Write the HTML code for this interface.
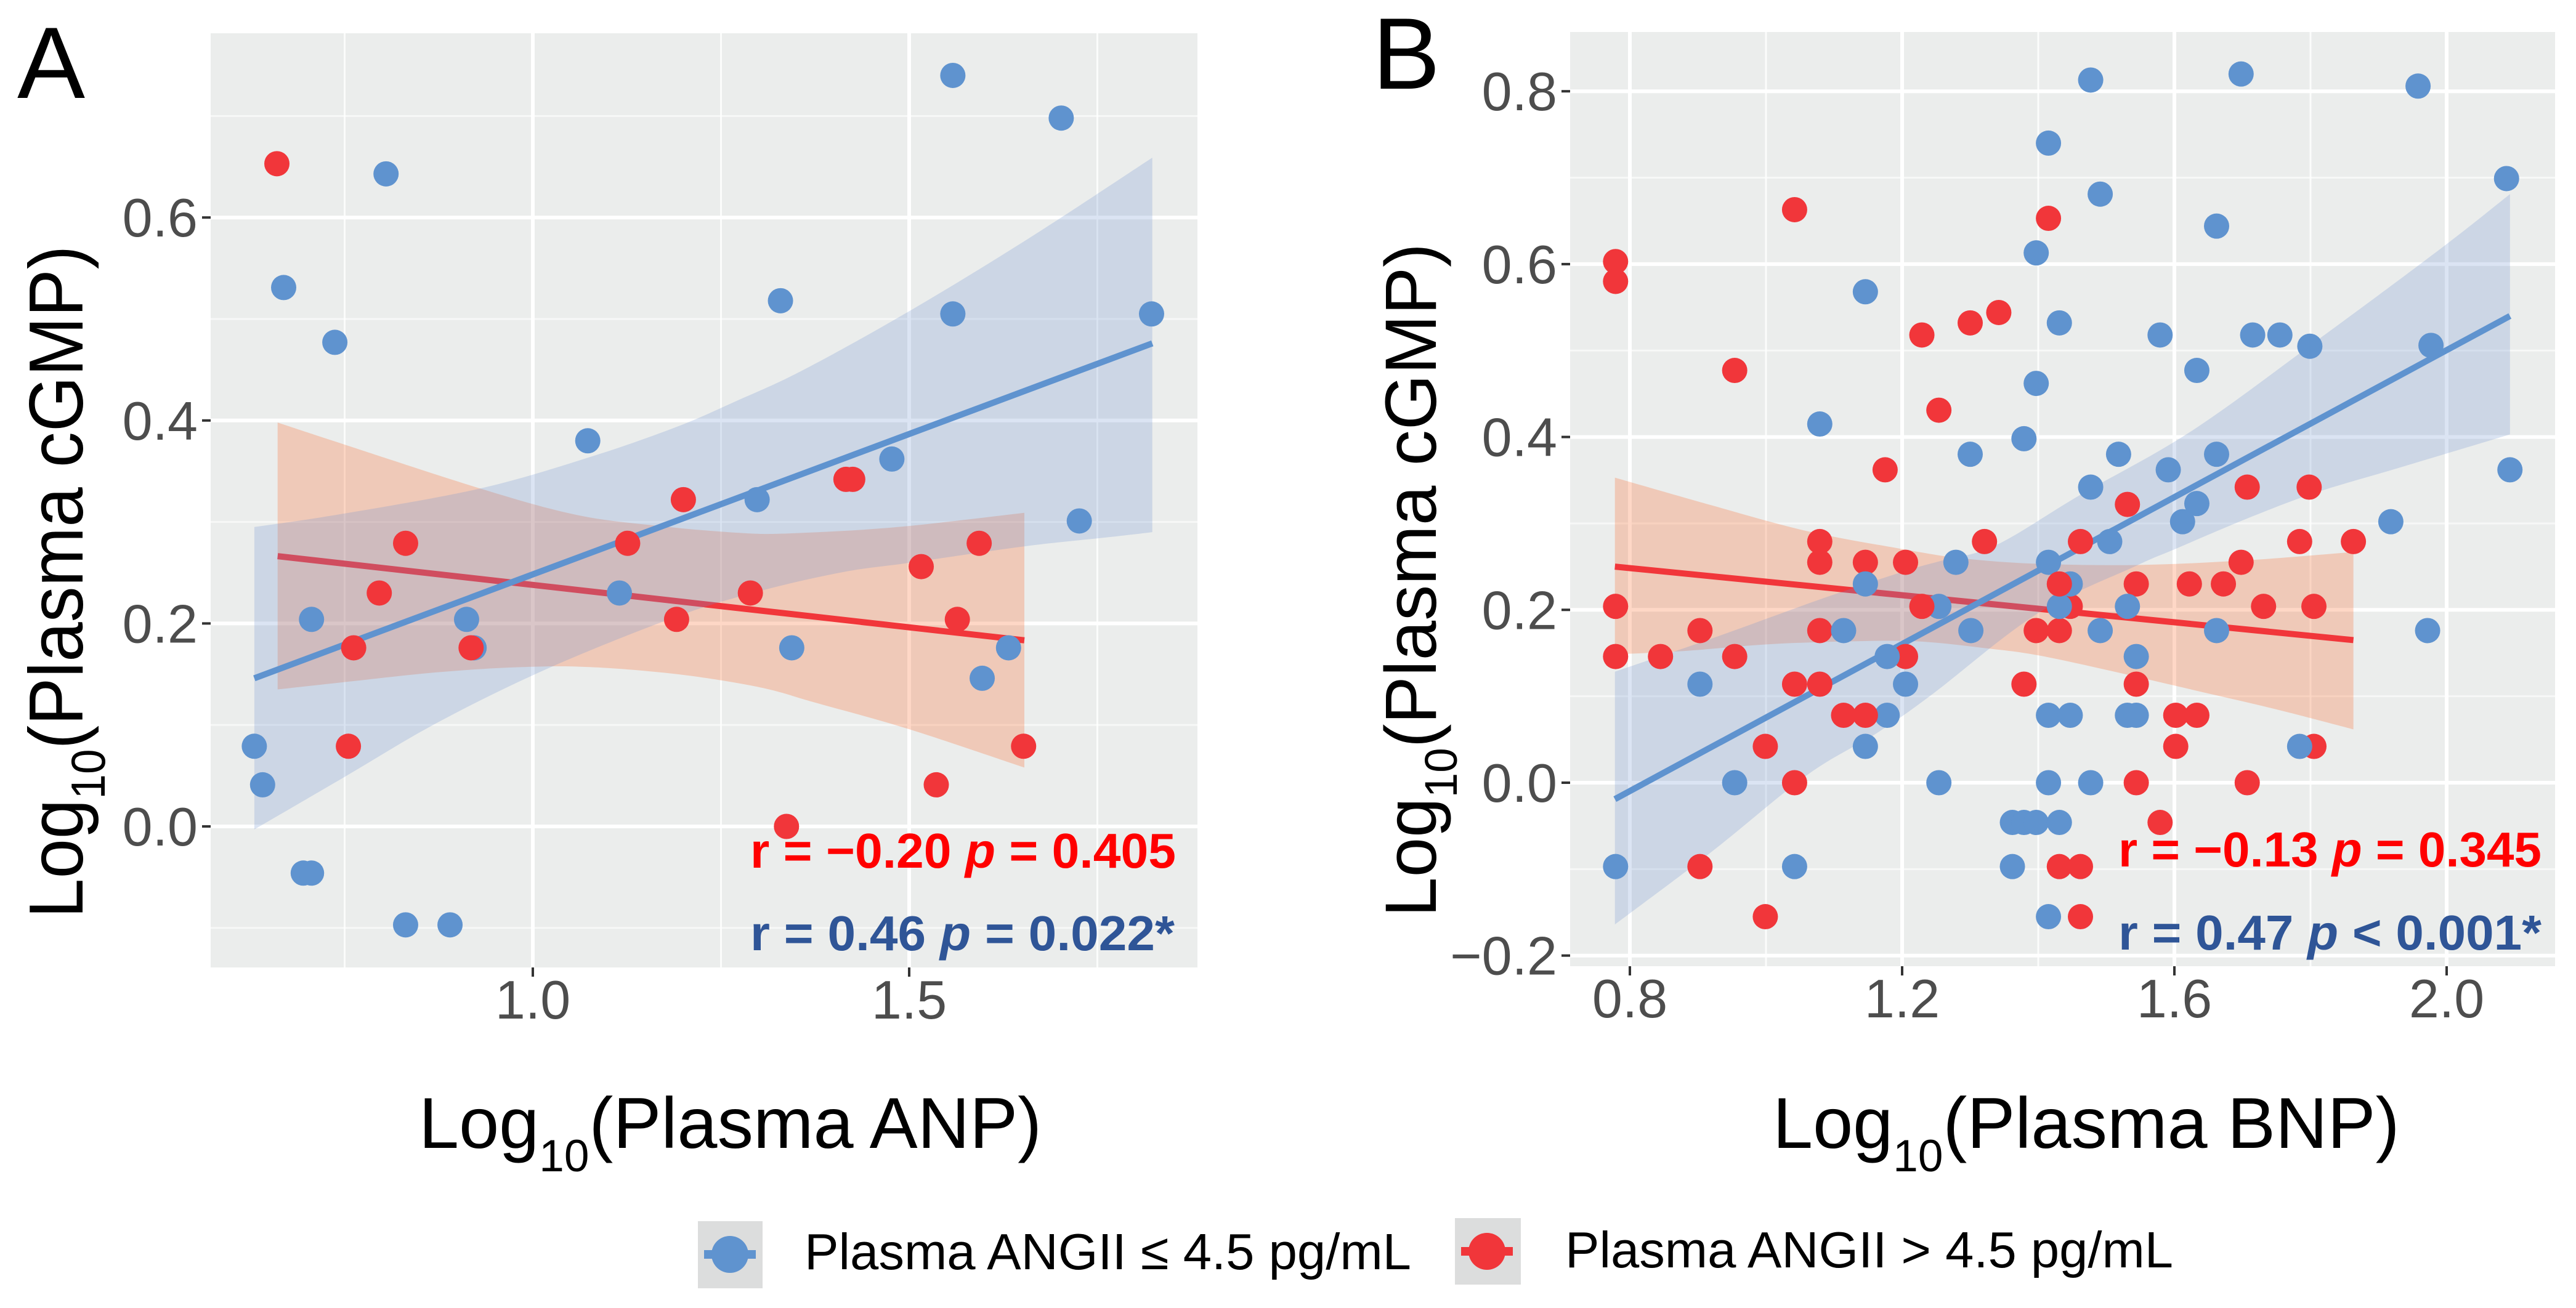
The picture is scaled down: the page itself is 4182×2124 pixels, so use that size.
<!DOCTYPE html>
<html>
<head>
<meta charset="utf-8">
<title>Plasma cGMP vs ANP and BNP</title>
<style>
html,body{margin:0;padding:0;background:#fff;}
svg{display:block;font-family:"Liberation Sans",sans-serif;}
</style>
</head>
<body>
<svg id="fig" xmlns="http://www.w3.org/2000/svg" width="4182" height="2124" viewBox="0 0 4182 2124">
  <rect width="4182" height="2124" fill="#fff"/>
  <g id="panelA"></g>
  <g id="panelB"></g>

  <text x="28" y="159" font-size="165" fill="#000">A</text>
  <text x="2228" y="144" font-size="165" fill="#000">B</text>

  <text transform="translate(134,1491) rotate(-90) scale(0.935,1)" font-size="124" fill="#000">Log<tspan font-size="78" dy="36">10</tspan><tspan dy="-36">(Plasma cGMP)</tspan></text>
  <text transform="translate(2331,1489) rotate(-90) scale(0.984,1)" font-size="118" fill="#000">Log<tspan font-size="74" dy="34">10</tspan><tspan dy="-34">(Plasma cGMP)</tspan></text>

  <text x="680" y="1864" font-size="117" fill="#000">Log<tspan font-size="73" dy="38">10</tspan><tspan dy="-38">(Plasma ANP)</tspan></text>
  <text x="2878" y="1864" font-size="117" fill="#000">Log<tspan font-size="73" dy="38">10</tspan><tspan dy="-38">(Plasma BNP)</tspan></text>

  <text x="1218" y="1409" font-size="80" font-weight="bold" fill="#ff0000" textLength="691" lengthAdjust="spacingAndGlyphs">r = −0.20 <tspan font-style="italic">p</tspan> = 0.405</text>
  <text x="1218" y="1543" font-size="80" font-weight="bold" fill="#2f5597" textLength="689" lengthAdjust="spacingAndGlyphs">r = 0.46 <tspan font-style="italic">p</tspan> = 0.022*</text>
  <text x="3439" y="1407" font-size="80" font-weight="bold" fill="#ff0000" textLength="687" lengthAdjust="spacingAndGlyphs">r = −0.13 <tspan font-style="italic">p</tspan> = 0.345</text>
  <text x="3439" y="1542" font-size="80" font-weight="bold" fill="#2f5597" textLength="687" lengthAdjust="spacingAndGlyphs">r = 0.47 <tspan font-style="italic">p</tspan> &lt; 0.001*</text>

  <g>
    <g>
      <rect x="1133" y="1983" width="105" height="109" fill="#dcdddd"/>
      <line x1="1143" x2="1227" y1="2037" y2="2037" stroke="#5f93cf" stroke-width="14"/>
      <circle cx="1185" cy="2037" r="30" fill="#5f93cf"/>
      <text x="1306" y="2061" font-size="83" fill="#000" textLength="985" lengthAdjust="spacingAndGlyphs">Plasma ANGII ≤ 4.5 pg/mL</text>
    </g>
    <g>
      <rect x="2362" y="1978" width="107" height="108" fill="#dcdddd"/>
      <line x1="2372" x2="2456" y1="2032" y2="2032" stroke="#f1363a" stroke-width="14"/>
      <circle cx="2414" cy="2032" r="30" fill="#f1363a"/>
      <text x="2541" y="2058" font-size="83" fill="#000" textLength="987" lengthAdjust="spacingAndGlyphs">Plasma ANGII &gt; 4.5 pg/mL</text>
    </g>
  </g>
</svg>

<script>
// ---------- Panel A data ----------
const aXTickValues = [1.0, 1.5];
const aXTickLabels = ["1.0", "1.5"];
const aXMinorValues = [0.75, 1.25, 1.75];
const aYTickValues = [0.0, 0.2, 0.4, 0.6];
const aYTickLabels = ["0.0", "0.2", "0.4", "0.6"];
const aYMinorValues = [-0.1, 0.1, 0.3, 0.5, 0.7];

const aBlueX = [0.630,0.641,0.669,0.695,0.706,0.706,0.737,0.805,0.831,0.890,0.912,0.922,1.073,1.115,1.298,1.329,1.344,1.477,1.558,1.558,1.597,1.632,1.702,1.726,1.822];
const aBlueY = [0.079,0.041,0.531,-0.046,-0.046,0.204,0.477,0.643,-0.097,-0.097,0.204,0.176,0.380,0.230,0.322,0.518,0.176,0.362,0.740,0.505,0.146,0.176,0.698,0.301,0.505];
const aRedX = [0.660,0.762,0.755,0.796,0.831,0.918,1.126,1.191,1.200,1.289,1.337,1.416,1.425,1.516,1.536,1.564,1.593,1.652];
const aRedY = [0.653,0.176,0.079,0.230,0.279,0.176,0.279,0.204,0.322,0.230,0.000,0.342,0.342,0.256,0.041,0.204,0.279,0.079];
const aRedTopX = [];
const aRedTopY = [];

const aBlueLineX = [0.630, 1.823];
const aBlueLineY = [0.146, 0.476];
const aRedLineX = [0.661, 1.653];
const aRedLineY = [0.2663, 0.1834];

const aBlueUpperX = [0.630,0.747,0.930,1.076,1.192,1.273,1.360,1.503,1.660,1.823];
const aBlueUpperY = [0.295,0.308,0.333,0.364,0.394,0.420,0.450,0.509,0.580,0.659];
const aBlueLowerX = [0.630,0.747,0.875,1.021,1.192,1.302,1.412,1.503,1.653,1.765,1.823];
const aBlueLowerY = [-0.003,0.0475,0.103,0.156,0.207,0.232,0.2506,0.260,0.276,0.285,0.290];
const aRedUpperX = [0.661,0.747,0.930,1.058,1.168,1.280,1.350,1.485,1.653];
const aRedUpperY = [0.398,0.377,0.333,0.307,0.296,0.289,0.289,0.295,0.309];
const aRedLowerX = [0.661,0.747,0.875,0.985,1.076,1.192,1.302,1.375,1.499,1.653];
const aRedLowerY = [0.135,0.142,0.152,0.157,0.157,0.150,0.137,0.122,0.096,0.058];

// ---------- Panel B data ----------
const bXTickValues = [0.8, 1.2, 1.6, 2.0];
const bXTickLabels = ["0.8", "1.2", "1.6", "2.0"];
const bXMinorValues = [1.0, 1.4, 1.8];
const bYTickValues = [-0.2, 0.0, 0.2, 0.4, 0.6, 0.8];
const bYTickLabels = ["−0.2", "0.0", "0.2", "0.4", "0.6", "0.8"];
const bYMinorValues = [-0.1, 0.1, 0.3, 0.5, 0.7];

const bBlueX = [1.477,1.698,1.958,1.415,2.088,1.491,1.662,1.397,1.146,1.431,1.579,1.715,1.755,1.799,1.977,1.633,1.397,1.079,1.379,1.300,1.518,1.662,2.093,1.591,1.477,1.633,1.612,1.918,1.505,1.279,1.415,1.146,1.447,1.254,1.431,1.531,1.114,1.301,1.491,1.662,1.972,1.178,1.544,0.903,1.205,1.178,1.415,1.447,1.531,1.544,1.146,1.784,0.954,1.254,1.415,1.477,1.362,1.379,1.397,1.431,0.779,1.042,1.362,1.415];
const bBlueY = [0.813,0.820,0.806,0.740,0.699,0.681,0.644,0.613,0.568,0.532,0.518,0.518,0.518,0.505,0.506,0.477,0.462,0.415,0.398,0.380,0.380,0.380,0.362,0.362,0.342,0.323,0.302,0.302,0.279,0.255,0.255,0.230,0.230,0.204,0.204,0.204,0.176,0.176,0.176,0.176,0.176,0.146,0.146,0.114,0.114,0.078,0.078,0.078,0.078,0.078,0.042,0.042,0.000,0.000,0.000,0.000,-0.046,-0.046,-0.046,-0.046,-0.097,-0.097,-0.097,-0.155];
const bRedX = [1.042,1.415,0.779,0.779,1.342,1.300,1.229,0.954,1.254,1.175,1.707,1.798,1.531,1.079,1.321,1.462,1.784,1.863,1.079,1.146,1.205,1.698,1.544,1.622,1.672,1.447,0.779,1.731,1.805,0.903,1.079,1.397,1.431,0.779,0.845,0.954,1.205,1.042,1.079,1.379,1.544,1.114,1.602,1.633,0.999,1.602,1.805,1.042,1.544,1.707,1.579,0.903,1.431,1.462,0.999,1.462];
const bRedY = [0.663,0.653,0.603,0.580,0.544,0.532,0.518,0.477,0.431,0.362,0.342,0.342,0.322,0.279,0.279,0.279,0.279,0.279,0.255,0.255,0.255,0.255,0.230,0.230,0.230,0.204,0.204,0.204,0.204,0.176,0.176,0.176,0.176,0.146,0.146,0.146,0.146,0.114,0.114,0.114,0.114,0.078,0.078,0.078,0.042,0.042,0.042,0.000,0.000,0.000,-0.046,-0.097,-0.097,-0.097,-0.155,-0.155];
const bRedTopX = [1.229,1.146,1.431];
const bRedTopY = [0.204,0.078,0.230];

const bBlueLineX = [0.778, 2.093];
const bBlueLineY = [-0.019, 0.540];
const bRedLineX = [0.778, 1.863];
const bRedLineY = [0.250, 0.165];

const bBlueUpperX = [0.778,0.920,1.082,1.203,1.260,1.338,1.463,1.625,1.805,1.993,2.093];
const bBlueUpperY = [0.1285,0.1667,0.2128,0.2446,0.2573,0.2748,0.3336,0.4068,0.509,0.619,0.681];
const bBlueLowerX = [0.778,0.920,1.061,1.162,1.243,1.398,1.544,1.600,1.705,1.806,1.935,2.093];
const bBlueLowerY = [-0.164,-0.080,0.0092,0.057,0.1015,0.1953,0.251,0.270,0.305,0.3352,0.3655,0.403];
const bRedUpperX = [0.778,0.920,1.061,1.203,1.284,1.392,1.544,1.705,1.863];
const bRedUpperY = [0.353,0.321,0.291,0.270,0.260,0.2535,0.2519,0.2573,0.2669];
const bRedLowerX = [0.778,0.880,1.001,1.122,1.223,1.324,1.398,1.503,1.625,1.746,1.863];
const bRedLowerY = [0.1485,0.1524,0.160,0.1635,0.1635,0.1555,0.1476,0.130,0.1078,0.0856,0.0617];

// ---------- Drawing ----------
const SVG_NS = "http://www.w3.org/2000/svg";
const BLUE = "#5f93cf";
const RED = "#f1363a";

function make(parent, tag, attrs) {
  const node = document.createElementNS(SVG_NS, tag);
  for (const k in attrs) node.setAttribute(k, attrs[k]);
  parent.appendChild(node);
  return node;
}

// Catmull-Rom smoothing of a pixel polyline into cubic segments
function smoothSegments(pts) {
  let d = "";
  for (let i = 0; i < pts.length - 1; i++) {
    const p0 = pts[Math.max(i - 1, 0)], p1 = pts[i], p2 = pts[i + 1], p3 = pts[Math.min(i + 2, pts.length - 1)];
    const c1x = p1[0] + (p2[0] - p0[0]) / 6, c1y = p1[1] + (p2[1] - p0[1]) / 6;
    const c2x = p2[0] - (p3[0] - p1[0]) / 6, c2y = p2[1] - (p3[1] - p1[1]) / 6;
    d += " C" + c1x.toFixed(1) + " " + c1y.toFixed(1) + " " + c2x.toFixed(1) + " " + c2y.toFixed(1) + " " + p2[0].toFixed(1) + " " + p2[1].toFixed(1);
  }
  return d;
}

function ribbonPath(sx, sy, upX, upY, loX, loY) {
  const up = upX.map(function (v, i) { return [sx(v), sy(upY[i])]; });
  const lo = loX.map(function (v, i) { return [sx(v), sy(loY[i])]; }).reverse();
  return "M" + up[0][0].toFixed(1) + " " + up[0][1].toFixed(1) + smoothSegments(up) +
         " L" + lo[0][0].toFixed(1) + " " + lo[0][1].toFixed(1) + smoothSegments(lo) + " Z";
}

function drawPanel(root, cfg) {
  const sx = cfg.sx, sy = cfg.sy, box = cfg.box;

  const bg = make(root, "rect", { x: box.l, y: box.t, width: box.r - box.l, height: box.b - box.t, fill: "#ebedec" });
  
  

  cfg.xMinor.forEach(function (v) {
    const g = make(root, "line", { x1: sx(v), x2: sx(v), y1: box.t, y2: box.b, stroke: "#fff", "stroke-width": 3, "stroke-opacity": 0.8 });
    
    
  });
  cfg.yMinor.forEach(function (v) {
    const g = make(root, "line", { x1: box.l, x2: box.r, y1: sy(v), y2: sy(v), stroke: "#fff", "stroke-width": 3, "stroke-opacity": 0.6 });
    
    
  });
  cfg.xTicks.forEach(function (v, i) {
    const g = make(root, "line", { x1: sx(v), x2: sx(v), y1: box.t, y2: box.b, stroke: "#fff", "stroke-width": 6 });
    
    
    const t = make(root, "line", { x1: sx(v), x2: sx(v), y1: box.b, y2: box.b + 15, stroke: "#333", "stroke-width": 4 });
    
    
    const lab = make(root, "text", { x: sx(v), y: cfg.xLabelY, "font-size": 88, fill: "#4d4d4d", "text-anchor": "middle" });
    
    
    lab.textContent = cfg.xLabels[i];
  });
  cfg.yTicks.forEach(function (v, i) {
    const g = make(root, "line", { x1: box.l, x2: box.r, y1: sy(v), y2: sy(v), stroke: "#fff", "stroke-width": 6 });
    
    
    const t = make(root, "line", { x1: box.l - 14, x2: box.l, y1: sy(v), y2: sy(v), stroke: "#333", "stroke-width": 4 });
    
    
    const lab = make(root, "text", { x: cfg.yLabelX, y: sy(v) + 31, "font-size": 88, fill: "#4d4d4d", "text-anchor": "end" });
    
    
    lab.textContent = cfg.yLabels[i];
  });

  const rr = make(root, "path", { d: ribbonPath(sx, sy, cfg.redUpX, cfg.redUpY, cfg.redLoX, cfg.redLoY), fill: "rgba(252,96,29,0.25)" });
  
  
  const lr = make(root, "line", { x1: sx(cfg.redLineX[0]), y1: sy(cfg.redLineY[0]), x2: sx(cfg.redLineX[1]), y2: sy(cfg.redLineY[1]), stroke: RED, "stroke-width": 10 });
  
  
  const rb = make(root, "path", { d: ribbonPath(sx, sy, cfg.blueUpX, cfg.blueUpY, cfg.blueLoX, cfg.blueLoY), fill: "rgba(111,148,209,0.25)" });
  
  
  const lb = make(root, "line", { x1: sx(cfg.blueLineX[0]), y1: sy(cfg.blueLineY[0]), x2: sx(cfg.blueLineX[1]), y2: sy(cfg.blueLineY[1]), stroke: BLUE, "stroke-width": 10 });
  
  

  function drawBlue() {
    cfg.blueX.forEach(function (v, i) {
      const c = make(root, "circle", { cx: sx(v), cy: sy(cfg.blueY[i]), r: 20.5, fill: BLUE });
      
      
    });
  }
  function drawRed(xs, ys) {
    xs.forEach(function (v, i) {
      const c = make(root, "circle", { cx: sx(v), cy: sy(ys[i]), r: 20.5, fill: RED });
      
      
    });
  }
  if (cfg.redFirst) drawRed(cfg.redX, cfg.redY);
  drawBlue();
  if (!cfg.redFirst) drawRed(cfg.redX, cfg.redY);
  drawRed(cfg.redTopX, cfg.redTopY);
}

drawPanel(document.getElementById("panelA"), {
  box: { l: 342, r: 1944, t: 54, b: 1571 },
  sx: function (v) { return 865 + (v - 1) * 1222; },
  sy: function (v) { return 1342 - v * 1648; },
  xTicks: aXTickValues, xLabels: aXTickLabels, xMinor: aXMinorValues,
  yTicks: aYTickValues, yLabels: aYTickLabels, yMinor: aYMinorValues,
  xLabelY: 1654, yLabelX: 321,
  blueX: aBlueX, blueY: aBlueY, redX: aRedX, redY: aRedY,
  redTopX: aRedTopX, redTopY: aRedTopY,
  blueLineX: aBlueLineX, blueLineY: aBlueLineY, redLineX: aRedLineX, redLineY: aRedLineY,
  blueUpX: aBlueUpperX, blueUpY: aBlueUpperY, blueLoX: aBlueLowerX, blueLoY: aBlueLowerY,
  redUpX: aRedUpperX, redUpY: aRedUpperY, redLoX: aRedLowerX, redLoY: aRedLowerY,
  redFirst: false
});

drawPanel(document.getElementById("panelB"), {
  box: { l: 2549, r: 4148, t: 52, b: 1569 },
  sx: function (v) { return 2646 + (v - 0.8) * 1105; },
  sy: function (v) { return 1271 - v * 1403.5; },
  xTicks: bXTickValues, xLabels: bXTickLabels, xMinor: bXMinorValues,
  yTicks: bYTickValues, yLabels: bYTickLabels, yMinor: bYMinorValues,
  xLabelY: 1652, yLabelX: 2528,
  blueX: bBlueX, blueY: bBlueY, redX: bRedX, redY: bRedY,
  redTopX: bRedTopX, redTopY: bRedTopY,
  blueLineX: bBlueLineX, blueLineY: bBlueLineY, redLineX: bRedLineX, redLineY: bRedLineY,
  blueUpX: bBlueUpperX, blueUpY: bBlueUpperY, blueLoX: bBlueLowerX, blueLoY: bBlueLowerY,
  redUpX: bRedUpperX, redUpY: bRedUpperY, redLoX: bRedLowerX, redLoY: bRedLowerY,
  redFirst: true
});
</script>
</body>
</html>
